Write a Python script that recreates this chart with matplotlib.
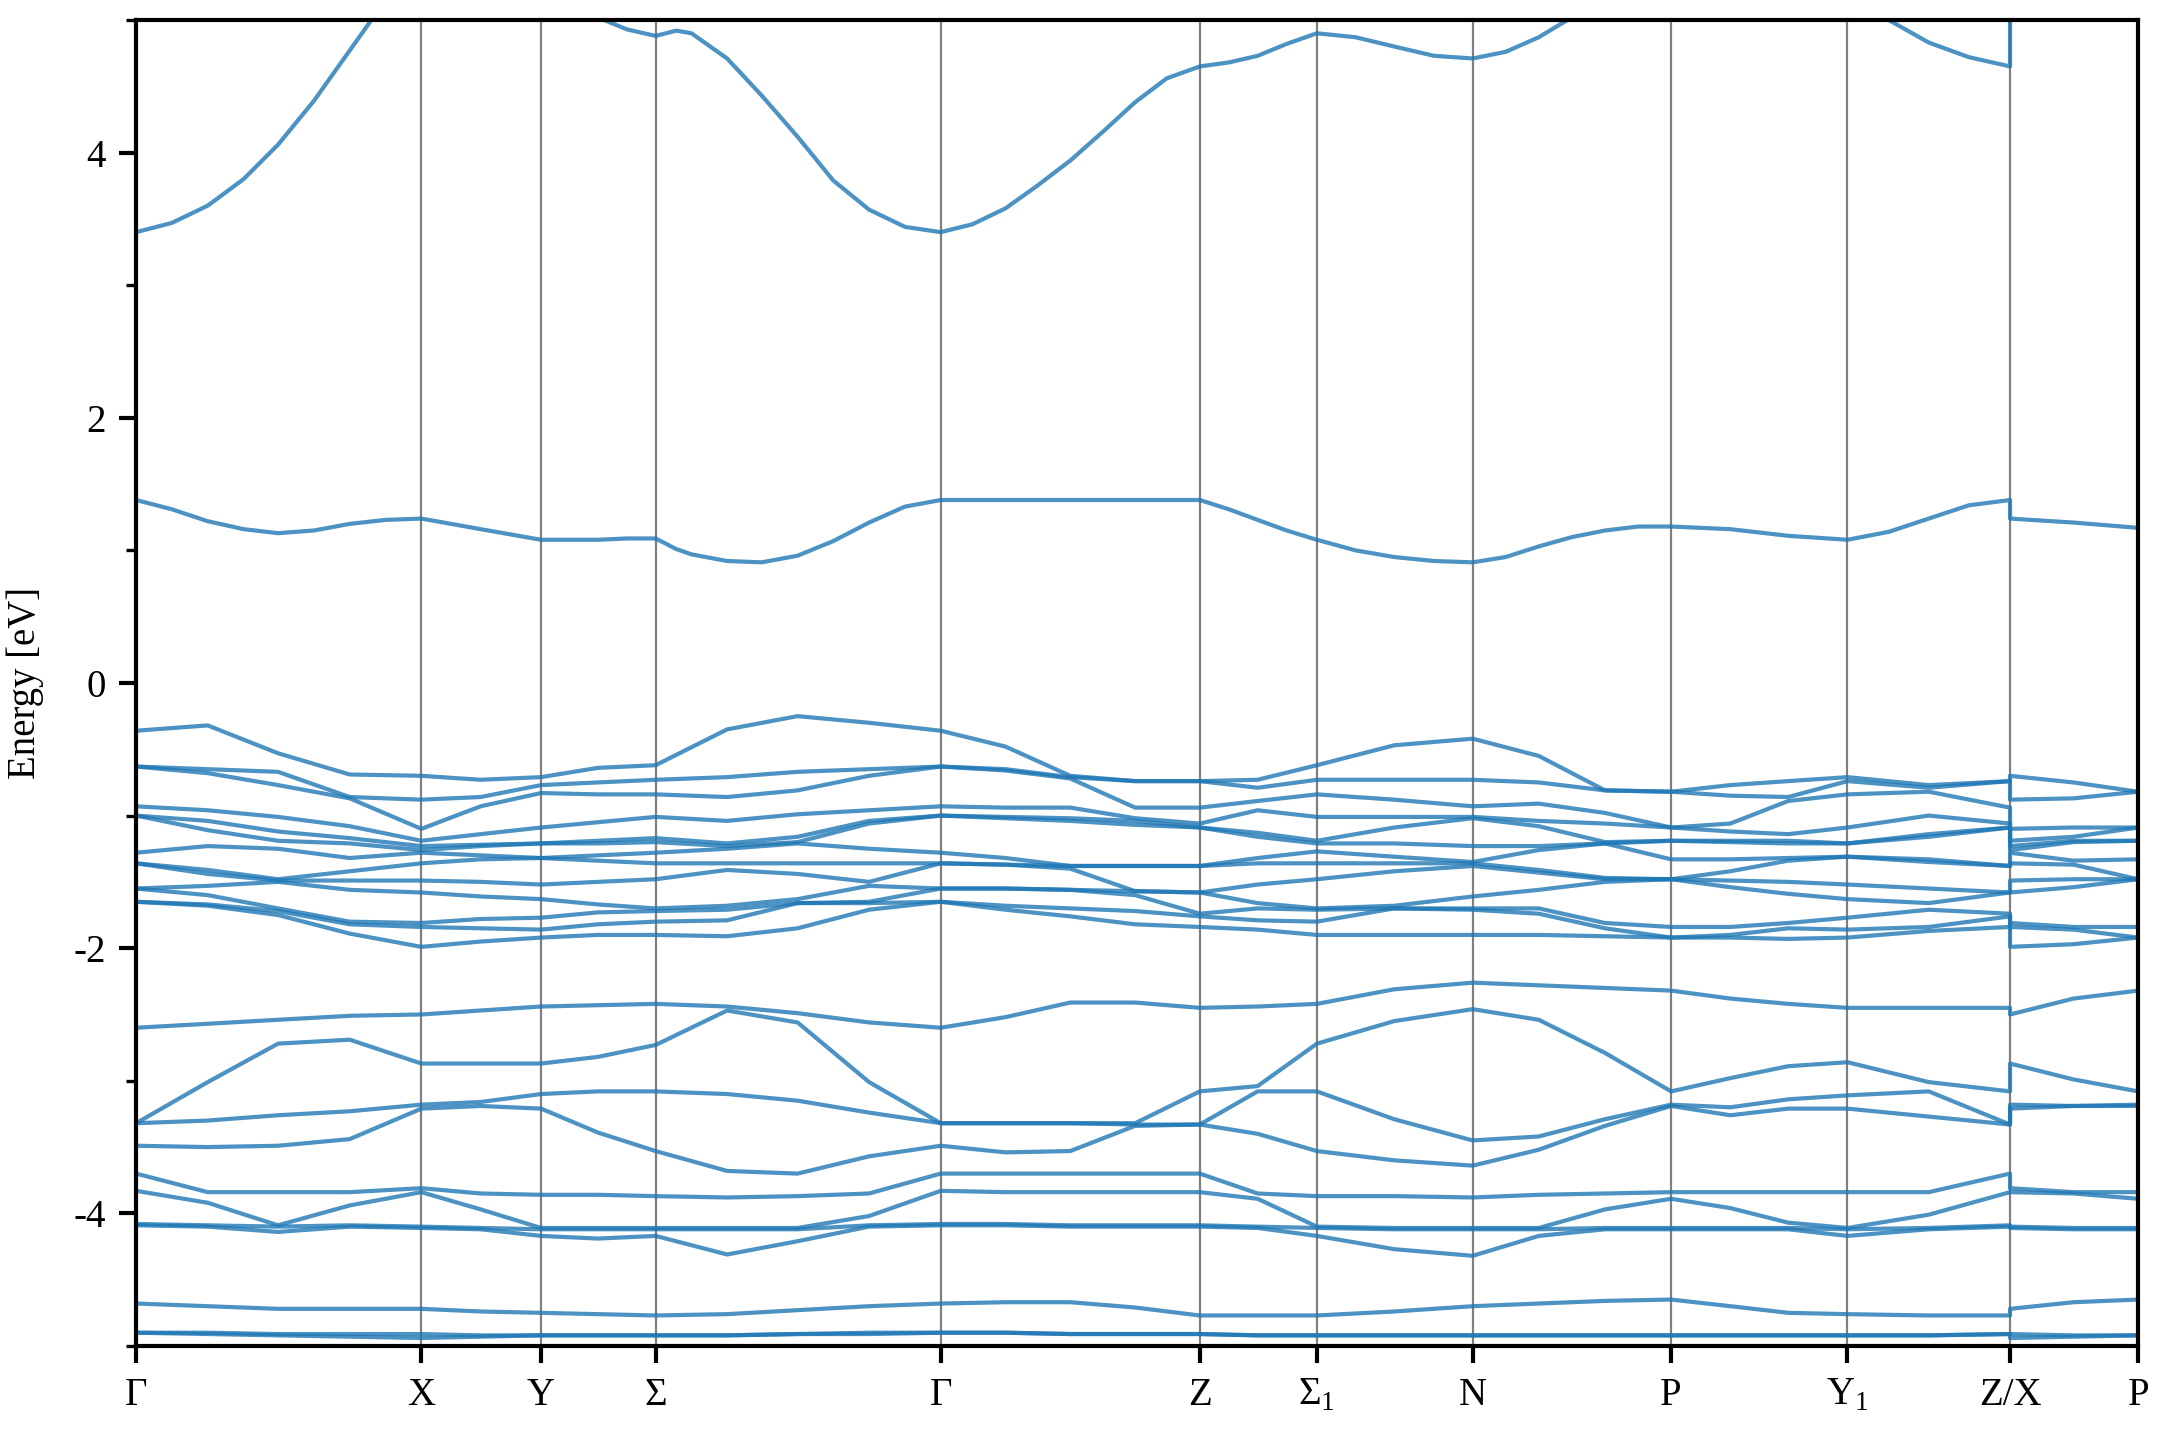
import numpy as np
import matplotlib
matplotlib.use('Agg')
import matplotlib.pyplot as plt
from matplotlib.ticker import MultipleLocator

plt.rcParams['font.family'] = ['Liberation Serif', 'DejaVu Serif']
plt.rcParams['mathtext.fontset'] = 'custom'
plt.rcParams['mathtext.rm'] = 'Liberation Serif'
plt.rcParams['axes.unicode_minus'] = False

# high-symmetry points along the path (normalised path length)
tick_pos = [0.0, 0.1425, 0.2023, 0.2595, 0.4019, 0.5313, 0.5898,
            0.6676, 0.7667, 0.8548, 0.9360, 1.0]
tick_labels = ['Γ', 'X', 'Y', 'Σ', 'Γ', 'Z', 'Σ$_1$', 'N', 'P', 'Y$_1$', 'Z/X', 'P']

# k-points where the conduction band energies were read
k_cond = [0.0, 0.0179, 0.0358, 0.0537, 0.0709, 0.0888, 0.1067, 0.1246, 0.1425,
          0.1721, 0.2023, 0.2161, 0.2306, 0.2450, 0.2595,
          0.2698, 0.2774, 0.2952, 0.3125, 0.3304, 0.3482, 0.3661, 0.3840, 0.4019,
          0.4178, 0.4343, 0.4501, 0.4666, 0.4831, 0.4990, 0.5148, 0.5313,
          0.5458, 0.5602, 0.5747, 0.5898,
          0.6091, 0.6284, 0.6483, 0.6676,
          0.6841, 0.7006, 0.7171, 0.7337, 0.7502, 0.7667,
          0.7963, 0.8252, 0.8548,
          0.8754, 0.8954, 0.9154, 0.9360,
          0.9360, 0.9677, 1.0]

# conduction bands (eV)
cond_upper = [3.40, 3.47, 3.60, 3.80, 4.06, 4.39, 4.77, 5.15, 5.50,
              5.60, 5.40, 5.20, 5.02, 4.93, 4.88,
              4.92, 4.90, 4.71, 4.43, 4.12, 3.79, 3.57, 3.44, 3.40,
              3.46, 3.58, 3.75, 3.94, 4.16, 4.38, 4.56, 4.65,
              4.68, 4.73, 4.82, 4.90,
              4.87, 4.80, 4.73, 4.71,
              4.76, 4.87, 5.02, 5.30, 5.50, 5.60,
              5.60, 5.30, 5.12,
              5.00, 4.83, 4.72, 4.65,
              5.50, 5.60, 5.60]
cond_lower = [1.38, 1.31, 1.22, 1.16, 1.13, 1.15, 1.20, 1.23, 1.24,
              1.16, 1.08, 1.08, 1.08, 1.09, 1.09,
              1.01, 0.97, 0.92, 0.91, 0.96, 1.07, 1.21, 1.33, 1.38,
              1.38, 1.38, 1.38, 1.38, 1.38, 1.38, 1.38, 1.38,
              1.31, 1.23, 1.15, 1.08,
              1.00, 0.95, 0.92, 0.91,
              0.95, 1.03, 1.10, 1.15, 1.18, 1.18,
              1.16, 1.11, 1.08,
              1.14, 1.24, 1.34, 1.38,
              1.24, 1.21, 1.17]

# k-points where the valence band energies were read
k_samples = [0.0, 0.0358, 0.0709, 0.1067, 0.1425, 0.1721, 0.2023, 0.2306,
             0.2595, 0.2952, 0.3304, 0.3661, 0.4019, 0.4343, 0.4666, 0.4990,
             0.5313, 0.5602, 0.5898, 0.6284, 0.6676, 0.7006, 0.7337, 0.7667,
             0.7963, 0.8252, 0.8548, 0.8954, 0.9360, 0.9360, 0.9677, 1.0]

# upper valence manifold: energies at each k-point, highest first
valence_top = [
    [-0.36, -0.63, -0.63, -0.93, -1.00, -1.00, -1.28, -1.36, -1.36, -1.55, -1.55, -1.65, -1.65],
    [-0.32, -0.65, -0.68, -0.96, -1.04, -1.11, -1.23, -1.41, -1.44, -1.53, -1.60, -1.67, -1.68],
    [-0.53, -0.67, -0.77, -1.01, -1.12, -1.19, -1.25, -1.48, -1.49, -1.50, -1.70, -1.72, -1.75],
    [-0.69, -0.86, -0.87, -1.08, -1.17, -1.21, -1.32, -1.42, -1.49, -1.56, -1.80, -1.82, -1.89],
    [-0.70, -0.88, -1.10, -1.19, -1.23, -1.26, -1.28, -1.36, -1.49, -1.58, -1.81, -1.84, -1.99],
    [-0.73, -0.86, -0.93, -1.14, -1.22, -1.23, -1.30, -1.33, -1.50, -1.61, -1.78, -1.85, -1.95],
    [-0.71, -0.77, -0.83, -1.09, -1.21, -1.21, -1.32, -1.32, -1.52, -1.63, -1.77, -1.86, -1.92],
    [-0.64, -0.75, -0.84, -1.05, -1.19, -1.21, -1.30, -1.34, -1.50, -1.67, -1.73, -1.82, -1.90],
    [-0.62, -0.73, -0.84, -1.01, -1.17, -1.20, -1.28, -1.36, -1.48, -1.70, -1.72, -1.80, -1.90],
    [-0.35, -0.71, -0.86, -1.04, -1.21, -1.23, -1.25, -1.36, -1.41, -1.68, -1.71, -1.79, -1.91],
    [-0.25, -0.67, -0.81, -0.99, -1.16, -1.20, -1.21, -1.36, -1.44, -1.63, -1.66, -1.66, -1.85],
    [-0.30, -0.65, -0.70, -0.96, -1.04, -1.06, -1.25, -1.36, -1.50, -1.53, -1.65, -1.66, -1.71],
    [-0.36, -0.63, -0.63, -0.93, -1.00, -1.00, -1.28, -1.36, -1.36, -1.55, -1.55, -1.65, -1.65],
    [-0.48, -0.65, -0.66, -0.94, -1.01, -1.02, -1.32, -1.37, -1.37, -1.55, -1.55, -1.68, -1.71],
    [-0.70, -0.71, -0.72, -0.94, -1.02, -1.04, -1.38, -1.38, -1.40, -1.56, -1.56, -1.70, -1.76],
    [-0.74, -0.74, -0.94, -1.02, -1.04, -1.07, -1.38, -1.38, -1.57, -1.57, -1.60, -1.72, -1.82],
    [-0.74, -0.74, -0.94, -1.06, -1.09, -1.09, -1.38, -1.38, -1.58, -1.58, -1.74, -1.76, -1.84],
    [-0.73, -0.79, -0.89, -0.96, -1.13, -1.16, -1.32, -1.36, -1.52, -1.66, -1.70, -1.79, -1.86],
    [-0.62, -0.73, -0.84, -1.01, -1.19, -1.21, -1.27, -1.36, -1.48, -1.70, -1.71, -1.80, -1.90],
    [-0.47, -0.73, -0.88, -1.01, -1.09, -1.21, -1.31, -1.36, -1.42, -1.68, -1.70, -1.70, -1.90],
    [-0.42, -0.73, -0.93, -1.01, -1.02, -1.23, -1.35, -1.36, -1.38, -1.61, -1.70, -1.71, -1.90],
    [-0.55, -0.75, -0.91, -1.04, -1.08, -1.23, -1.26, -1.41, -1.43, -1.56, -1.70, -1.74, -1.90],
    [-0.81, -0.81, -0.98, -1.06, -1.20, -1.21, -1.21, -1.47, -1.48, -1.50, -1.81, -1.85, -1.91],
    [-0.82, -0.82, -1.09, -1.09, -1.19, -1.19, -1.33, -1.48, -1.48, -1.48, -1.84, -1.92, -1.92],
    [-0.77, -0.85, -1.06, -1.12, -1.19, -1.20, -1.33, -1.42, -1.49, -1.54, -1.84, -1.90, -1.92],
    [-0.74, -0.86, -0.89, -1.14, -1.19, -1.21, -1.32, -1.34, -1.50, -1.59, -1.81, -1.85, -1.93],
    [-0.71, -0.74, -0.84, -1.09, -1.21, -1.21, -1.31, -1.31, -1.52, -1.63, -1.77, -1.86, -1.92],
    [-0.77, -0.79, -0.82, -1.00, -1.14, -1.16, -1.33, -1.35, -1.55, -1.66, -1.71, -1.84, -1.87],
    [-0.74, -0.74, -0.94, -1.06, -1.09, -1.09, -1.38, -1.38, -1.58, -1.58, -1.74, -1.76, -1.84],
    [-0.70, -0.88, -1.10, -1.19, -1.23, -1.26, -1.28, -1.36, -1.49, -1.58, -1.81, -1.84, -1.99],
    [-0.75, -0.87, -1.09, -1.16, -1.19, -1.20, -1.34, -1.37, -1.48, -1.54, -1.84, -1.86, -1.97],
    [-0.82, -0.82, -1.09, -1.09, -1.19, -1.19, -1.33, -1.48, -1.48, -1.48, -1.84, -1.92, -1.92],
]

# lower valence bands: energies at each k-point, highest first
valence_low = [
    [-2.60, -3.32, -3.32, -3.49, -3.70, -3.83, -4.08, -4.09, -4.68, -4.90, -4.90],
    [-2.57, -3.01, -3.30, -3.50, -3.84, -3.92, -4.09, -4.10, -4.70, -4.90, -4.91],
    [-2.54, -2.72, -3.26, -3.49, -3.84, -4.09, -4.10, -4.14, -4.72, -4.91, -4.92],
    [-2.51, -2.69, -3.23, -3.44, -3.84, -3.94, -4.09, -4.10, -4.72, -4.91, -4.93],
    [-2.50, -2.87, -3.18, -3.21, -3.81, -3.84, -4.10, -4.11, -4.72, -4.91, -4.94],
    [-2.47, -2.87, -3.16, -3.19, -3.85, -3.97, -4.11, -4.12, -4.74, -4.92, -4.93],
    [-2.44, -2.87, -3.10, -3.21, -3.86, -4.11, -4.12, -4.17, -4.75, -4.92, -4.92],
    [-2.43, -2.82, -3.08, -3.39, -3.86, -4.11, -4.12, -4.19, -4.76, -4.92, -4.92],
    [-2.42, -2.73, -3.08, -3.53, -3.87, -4.11, -4.12, -4.17, -4.77, -4.92, -4.92],
    [-2.44, -2.47, -3.10, -3.68, -3.88, -4.11, -4.12, -4.31, -4.76, -4.92, -4.92],
    [-2.49, -2.56, -3.15, -3.70, -3.87, -4.11, -4.12, -4.21, -4.73, -4.91, -4.91],
    [-2.56, -3.01, -3.24, -3.57, -3.85, -4.02, -4.09, -4.10, -4.70, -4.90, -4.91],
    [-2.60, -3.32, -3.32, -3.49, -3.70, -3.83, -4.08, -4.09, -4.68, -4.90, -4.90],
    [-2.52, -3.32, -3.32, -3.54, -3.70, -3.84, -4.08, -4.09, -4.67, -4.90, -4.90],
    [-2.41, -3.32, -3.32, -3.53, -3.70, -3.84, -4.09, -4.10, -4.67, -4.91, -4.91],
    [-2.41, -3.32, -3.33, -3.34, -3.70, -3.84, -4.09, -4.10, -4.71, -4.91, -4.91],
    [-2.45, -3.08, -3.33, -3.33, -3.70, -3.84, -4.09, -4.10, -4.77, -4.91, -4.91],
    [-2.44, -3.04, -3.08, -3.40, -3.85, -3.89, -4.10, -4.11, -4.77, -4.92, -4.92],
    [-2.42, -2.72, -3.08, -3.53, -3.87, -4.10, -4.11, -4.17, -4.77, -4.92, -4.92],
    [-2.31, -2.55, -3.29, -3.60, -3.87, -4.11, -4.12, -4.27, -4.74, -4.92, -4.92],
    [-2.26, -2.46, -3.45, -3.64, -3.88, -4.11, -4.12, -4.32, -4.70, -4.92, -4.92],
    [-2.28, -2.54, -3.42, -3.52, -3.86, -4.11, -4.12, -4.17, -4.68, -4.92, -4.92],
    [-2.30, -2.79, -3.29, -3.34, -3.85, -3.97, -4.11, -4.12, -4.66, -4.92, -4.92],
    [-2.32, -3.08, -3.18, -3.19, -3.84, -3.89, -4.11, -4.12, -4.65, -4.92, -4.92],
    [-2.38, -2.98, -3.20, -3.26, -3.84, -3.96, -4.11, -4.12, -4.70, -4.92, -4.92],
    [-2.42, -2.89, -3.14, -3.21, -3.84, -4.07, -4.11, -4.12, -4.75, -4.92, -4.92],
    [-2.45, -2.86, -3.11, -3.21, -3.84, -4.11, -4.12, -4.17, -4.76, -4.92, -4.92],
    [-2.45, -3.01, -3.08, -3.27, -3.84, -4.01, -4.11, -4.12, -4.77, -4.92, -4.92],
    [-2.45, -3.08, -3.33, -3.33, -3.70, -3.84, -4.09, -4.10, -4.77, -4.91, -4.91],
    [-2.50, -2.87, -3.18, -3.21, -3.81, -3.84, -4.10, -4.11, -4.72, -4.91, -4.94],
    [-2.38, -2.99, -3.19, -3.19, -3.84, -3.85, -4.11, -4.12, -4.67, -4.92, -4.93],
    [-2.32, -3.08, -3.18, -3.19, -3.84, -3.89, -4.11, -4.12, -4.65, -4.92, -4.92],
]


def main():
    fig = plt.figure(figsize=(10.8, 7.2), dpi=200)
    ax = fig.add_axes([0.063, 0.0653, 0.9269, 0.9208])

    style = dict(color='#1f77b4', alpha=0.8, lw=1.5,
                 solid_joinstyle='round', zorder=2)

    # conduction bands
    for e in (cond_upper, cond_lower):
        ax.plot(k_cond, e, **style)

    # valence bands, one line per band index
    for e in np.array(valence_top).T:
        ax.plot(k_samples, e, **style)
    for e in np.array(valence_low).T:
        ax.plot(k_samples, e, **style)

    for x in tick_pos[1:-1]:
        ax.axvline(x, color='k', alpha=0.5, lw=0.8, zorder=1)

    ax.set_xlim(0, 1)
    ax.set_ylim(-5, 5)
    ax.set_xticks(tick_pos)
    ax.set_xticklabels(tick_labels)
    ax.set_yticks([-4, -2, 0, 2, 4])
    ax.yaxis.set_minor_locator(MultipleLocator(1))

    ax.tick_params(axis='both', which='major', direction='out', length=6,
                   width=1.5, labelsize=14, pad=5)
    ax.tick_params(axis='y', which='minor', direction='out', length=3.5,
                   width=1.2)
    for s in ax.spines.values():
        s.set_linewidth(1.5)

    ax.set_ylabel('Energy [eV]', fontsize=14)
    ax.yaxis.set_label_coords(-0.046, 0.5)

    fig.savefig('out.png', dpi=200)


if __name__ == '__main__':
    main()
